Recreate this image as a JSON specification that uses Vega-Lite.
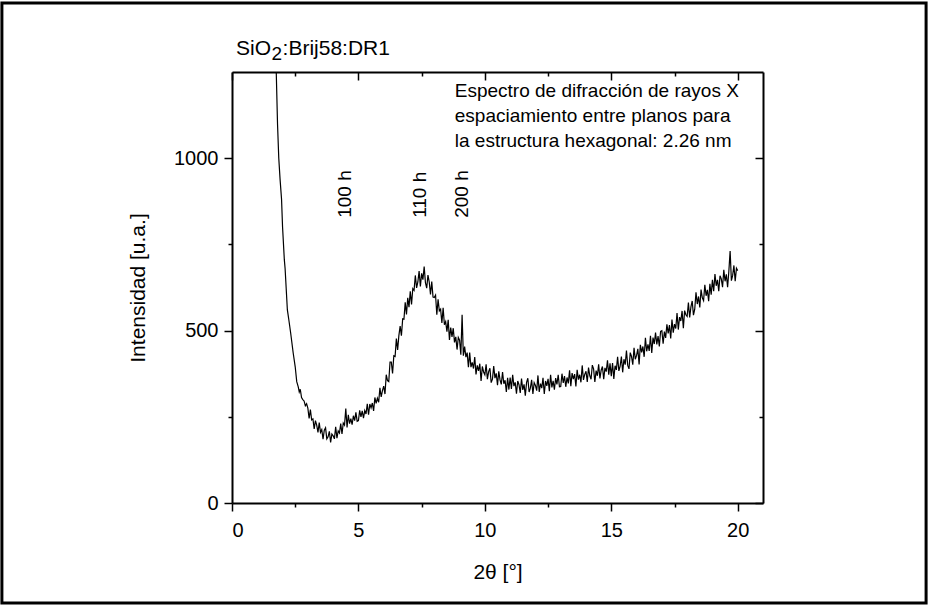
{
  "$schema": "https://vega.github.io/schema/vega-lite/v6.json",
  "width": 531,
  "height": 431,
  "autosize": {"type": "none"},
  "padding": {"left": 232, "top": 72, "right": 166, "bottom": 102},
  "background": "white",
  "config": {
    "view": {"stroke": null},
    "font": "Liberation Sans",
    "axis": {"domainColor": "black", "domainWidth": 2, "tickColor": "black", "tickWidth": 1.5, "labelFont": "Liberation Sans", "labelFontSize": 20, "labelColor": "black", "titleFont": "Liberation Sans", "titleFontWeight": "normal", "titleColor": "black", "grid": false}
  },
  "datasets": {
    "xrd": [
      {"x": 1.7, "y": 1400}, {"x": 1.8, "y": 1100}, {"x": 1.85, "y": 1000}, {"x": 1.9, "y": 940}, {"x": 1.96, "y": 880},
      {"x": 2.0, "y": 800}, {"x": 2.07, "y": 705}, {"x": 2.1, "y": 680}, {"x": 2.19, "y": 560}, {"x": 2.25, "y": 530},
      {"x": 2.32, "y": 493}, {"x": 2.42, "y": 435}, {"x": 2.5, "y": 395}, {"x": 2.56, "y": 352}, {"x": 2.62, "y": 337},
      {"x": 2.66, "y": 322}, {"x": 2.7, "y": 330}, {"x": 2.75, "y": 306}, {"x": 2.8, "y": 300}, {"x": 2.85, "y": 296}, {"x": 2.9, "y": 282}, {"x": 2.95, "y": 288},
      {"x": 3.0, "y": 275}, {"x": 3.05, "y": 245}, {"x": 3.1, "y": 271}, {"x": 3.15, "y": 241}, {"x": 3.2, "y": 244},
      {"x": 3.25, "y": 215}, {"x": 3.3, "y": 239}, {"x": 3.35, "y": 226}, {"x": 3.4, "y": 205}, {"x": 3.45, "y": 233},
      {"x": 3.5, "y": 205}, {"x": 3.55, "y": 213}, {"x": 3.6, "y": 185}, {"x": 3.65, "y": 211}, {"x": 3.7, "y": 218},
      {"x": 3.75, "y": 186}, {"x": 3.8, "y": 192}, {"x": 3.85, "y": 208}, {"x": 3.9, "y": 176}, {"x": 3.95, "y": 200},
      {"x": 4.0, "y": 195}, {"x": 4.05, "y": 186}, {"x": 4.1, "y": 221}, {"x": 4.15, "y": 188}, {"x": 4.2, "y": 209},
      {"x": 4.25, "y": 203}, {"x": 4.3, "y": 230}, {"x": 4.35, "y": 200}, {"x": 4.4, "y": 232}, {"x": 4.45, "y": 226},
      {"x": 4.5, "y": 274}, {"x": 4.55, "y": 219}, {"x": 4.6, "y": 256}, {"x": 4.65, "y": 230}, {"x": 4.7, "y": 245},
      {"x": 4.75, "y": 227}, {"x": 4.8, "y": 253}, {"x": 4.85, "y": 239}, {"x": 4.9, "y": 263}, {"x": 4.95, "y": 237},
      {"x": 5.0, "y": 239}, {"x": 5.05, "y": 269}, {"x": 5.1, "y": 250}, {"x": 5.15, "y": 267}, {"x": 5.2, "y": 246},
      {"x": 5.25, "y": 268}, {"x": 5.3, "y": 258}, {"x": 5.35, "y": 288}, {"x": 5.4, "y": 256}, {"x": 5.45, "y": 287},
      {"x": 5.5, "y": 276}, {"x": 5.55, "y": 290}, {"x": 5.6, "y": 267}, {"x": 5.65, "y": 306}, {"x": 5.7, "y": 289},
      {"x": 5.75, "y": 304}, {"x": 5.8, "y": 292}, {"x": 5.85, "y": 334}, {"x": 5.9, "y": 308}, {"x": 5.95, "y": 326},
      {"x": 6.0, "y": 339}, {"x": 6.05, "y": 316}, {"x": 6.1, "y": 372}, {"x": 6.15, "y": 355}, {"x": 6.2, "y": 352},
      {"x": 6.25, "y": 409}, {"x": 6.3, "y": 409}, {"x": 6.35, "y": 376}, {"x": 6.4, "y": 427}, {"x": 6.45, "y": 425},
      {"x": 6.5, "y": 477}, {"x": 6.55, "y": 444}, {"x": 6.6, "y": 486}, {"x": 6.65, "y": 513}, {"x": 6.7, "y": 485},
      {"x": 6.75, "y": 534}, {"x": 6.8, "y": 533}, {"x": 6.85, "y": 582}, {"x": 6.9, "y": 547}, {"x": 6.95, "y": 595},
      {"x": 7.0, "y": 568}, {"x": 7.05, "y": 614}, {"x": 7.1, "y": 576}, {"x": 7.15, "y": 622}, {"x": 7.2, "y": 617},
      {"x": 7.25, "y": 660}, {"x": 7.3, "y": 624}, {"x": 7.35, "y": 641}, {"x": 7.4, "y": 673}, {"x": 7.45, "y": 628},
      {"x": 7.5, "y": 666}, {"x": 7.55, "y": 648}, {"x": 7.6, "y": 686}, {"x": 7.65, "y": 639}, {"x": 7.7, "y": 623},
      {"x": 7.75, "y": 661}, {"x": 7.8, "y": 641}, {"x": 7.85, "y": 605}, {"x": 7.9, "y": 642}, {"x": 7.95, "y": 597},
      {"x": 8.0, "y": 596}, {"x": 8.05, "y": 603}, {"x": 8.1, "y": 546}, {"x": 8.15, "y": 591}, {"x": 8.2, "y": 557},
      {"x": 8.25, "y": 562}, {"x": 8.3, "y": 522}, {"x": 8.35, "y": 566}, {"x": 8.4, "y": 517}, {"x": 8.45, "y": 526},
      {"x": 8.5, "y": 497}, {"x": 8.55, "y": 531}, {"x": 8.6, "y": 473}, {"x": 8.65, "y": 509}, {"x": 8.7, "y": 482},
      {"x": 8.75, "y": 507}, {"x": 8.8, "y": 466}, {"x": 8.85, "y": 482}, {"x": 8.9, "y": 445}, {"x": 8.95, "y": 480},
      {"x": 9.0, "y": 472}, {"x": 9.05, "y": 430}, {"x": 9.1, "y": 546}, {"x": 9.15, "y": 427}, {"x": 9.2, "y": 454},
      {"x": 9.25, "y": 423}, {"x": 9.3, "y": 436}, {"x": 9.35, "y": 394}, {"x": 9.4, "y": 436}, {"x": 9.45, "y": 394},
      {"x": 9.5, "y": 408}, {"x": 9.55, "y": 390}, {"x": 9.6, "y": 423}, {"x": 9.65, "y": 373}, {"x": 9.7, "y": 399},
      {"x": 9.75, "y": 383}, {"x": 9.8, "y": 404}, {"x": 9.85, "y": 354}, {"x": 9.9, "y": 396}, {"x": 9.95, "y": 380},
      {"x": 10.0, "y": 372}, {"x": 10.05, "y": 402}, {"x": 10.1, "y": 359}, {"x": 10.15, "y": 381}, {"x": 10.2, "y": 391},
      {"x": 10.25, "y": 349}, {"x": 10.3, "y": 359}, {"x": 10.35, "y": 397}, {"x": 10.4, "y": 362}, {"x": 10.45, "y": 376},
      {"x": 10.5, "y": 342}, {"x": 10.55, "y": 382}, {"x": 10.6, "y": 357}, {"x": 10.65, "y": 344}, {"x": 10.7, "y": 380},
      {"x": 10.75, "y": 346}, {"x": 10.8, "y": 356}, {"x": 10.85, "y": 322}, {"x": 10.9, "y": 363}, {"x": 10.95, "y": 329},
      {"x": 11.0, "y": 364}, {"x": 11.05, "y": 331}, {"x": 11.1, "y": 372}, {"x": 11.15, "y": 339}, {"x": 11.2, "y": 350},
      {"x": 11.25, "y": 317}, {"x": 11.3, "y": 354}, {"x": 11.35, "y": 343}, {"x": 11.4, "y": 319}, {"x": 11.45, "y": 361},
      {"x": 11.5, "y": 328}, {"x": 11.55, "y": 344}, {"x": 11.6, "y": 311}, {"x": 11.65, "y": 350}, {"x": 11.7, "y": 362},
      {"x": 11.75, "y": 322}, {"x": 11.8, "y": 333}, {"x": 11.85, "y": 357}, {"x": 11.9, "y": 316}, {"x": 11.95, "y": 349},
      {"x": 12.0, "y": 341}, {"x": 12.05, "y": 326}, {"x": 12.1, "y": 370}, {"x": 12.15, "y": 322}, {"x": 12.2, "y": 346},
      {"x": 12.25, "y": 333}, {"x": 12.3, "y": 363}, {"x": 12.35, "y": 316}, {"x": 12.4, "y": 354}, {"x": 12.45, "y": 340},
      {"x": 12.5, "y": 360}, {"x": 12.55, "y": 324}, {"x": 12.6, "y": 372}, {"x": 12.65, "y": 335}, {"x": 12.7, "y": 354},
      {"x": 12.75, "y": 329}, {"x": 12.8, "y": 362}, {"x": 12.85, "y": 344}, {"x": 12.9, "y": 372}, {"x": 12.95, "y": 337},
      {"x": 13.0, "y": 338}, {"x": 13.05, "y": 375}, {"x": 13.1, "y": 348}, {"x": 13.15, "y": 368}, {"x": 13.2, "y": 337},
      {"x": 13.25, "y": 364}, {"x": 13.3, "y": 347}, {"x": 13.35, "y": 385}, {"x": 13.4, "y": 339}, {"x": 13.45, "y": 377},
      {"x": 13.5, "y": 359}, {"x": 13.55, "y": 374}, {"x": 13.6, "y": 338}, {"x": 13.65, "y": 386}, {"x": 13.7, "y": 358},
      {"x": 13.75, "y": 372}, {"x": 13.8, "y": 350}, {"x": 13.85, "y": 399}, {"x": 13.9, "y": 357}, {"x": 13.95, "y": 373},
      {"x": 14.0, "y": 382}, {"x": 14.05, "y": 351}, {"x": 14.1, "y": 393}, {"x": 14.15, "y": 369}, {"x": 14.2, "y": 359},
      {"x": 14.25, "y": 400}, {"x": 14.3, "y": 389}, {"x": 14.35, "y": 351}, {"x": 14.4, "y": 384}, {"x": 14.45, "y": 369},
      {"x": 14.5, "y": 402}, {"x": 14.55, "y": 361}, {"x": 14.6, "y": 385}, {"x": 14.65, "y": 396}, {"x": 14.7, "y": 359},
      {"x": 14.75, "y": 392}, {"x": 14.8, "y": 381}, {"x": 14.85, "y": 414}, {"x": 14.9, "y": 372}, {"x": 14.95, "y": 405},
      {"x": 15.0, "y": 368}, {"x": 15.05, "y": 406}, {"x": 15.1, "y": 360}, {"x": 15.15, "y": 398}, {"x": 15.2, "y": 386},
      {"x": 15.25, "y": 424}, {"x": 15.3, "y": 383}, {"x": 15.35, "y": 397}, {"x": 15.4, "y": 425}, {"x": 15.45, "y": 379},
      {"x": 15.5, "y": 417}, {"x": 15.55, "y": 401}, {"x": 15.6, "y": 442}, {"x": 15.65, "y": 399}, {"x": 15.7, "y": 389},
      {"x": 15.75, "y": 436}, {"x": 15.8, "y": 425}, {"x": 15.85, "y": 401}, {"x": 15.9, "y": 450}, {"x": 15.95, "y": 417},
      {"x": 16.0, "y": 428}, {"x": 16.05, "y": 447}, {"x": 16.1, "y": 402}, {"x": 16.15, "y": 459}, {"x": 16.2, "y": 437},
      {"x": 16.25, "y": 454}, {"x": 16.3, "y": 424}, {"x": 16.35, "y": 479}, {"x": 16.4, "y": 440}, {"x": 16.45, "y": 460},
      {"x": 16.5, "y": 441}, {"x": 16.55, "y": 485}, {"x": 16.6, "y": 435}, {"x": 16.65, "y": 480}, {"x": 16.7, "y": 461},
      {"x": 16.75, "y": 494}, {"x": 16.8, "y": 460}, {"x": 16.85, "y": 484}, {"x": 16.9, "y": 454}, {"x": 16.95, "y": 498},
      {"x": 17.0, "y": 500}, {"x": 17.05, "y": 462}, {"x": 17.1, "y": 497}, {"x": 17.15, "y": 479}, {"x": 17.2, "y": 518},
      {"x": 17.25, "y": 492}, {"x": 17.3, "y": 516}, {"x": 17.35, "y": 477}, {"x": 17.4, "y": 532}, {"x": 17.45, "y": 494},
      {"x": 17.5, "y": 519}, {"x": 17.55, "y": 506}, {"x": 17.6, "y": 551}, {"x": 17.65, "y": 503}, {"x": 17.7, "y": 539},
      {"x": 17.75, "y": 528}, {"x": 17.8, "y": 557}, {"x": 17.85, "y": 507}, {"x": 17.9, "y": 558}, {"x": 17.95, "y": 546},
      {"x": 18.0, "y": 541}, {"x": 18.05, "y": 581}, {"x": 18.1, "y": 538}, {"x": 18.15, "y": 569}, {"x": 18.2, "y": 586},
      {"x": 18.25, "y": 545}, {"x": 18.3, "y": 562}, {"x": 18.35, "y": 611}, {"x": 18.4, "y": 577}, {"x": 18.45, "y": 599},
      {"x": 18.5, "y": 567}, {"x": 18.55, "y": 619}, {"x": 18.6, "y": 595}, {"x": 18.65, "y": 587}, {"x": 18.7, "y": 633},
      {"x": 18.75, "y": 601}, {"x": 18.8, "y": 618}, {"x": 18.85, "y": 585}, {"x": 18.9, "y": 636}, {"x": 18.95, "y": 604},
      {"x": 19.0, "y": 647}, {"x": 19.05, "y": 614}, {"x": 19.1, "y": 664}, {"x": 19.15, "y": 630}, {"x": 19.2, "y": 647},
      {"x": 19.25, "y": 614}, {"x": 19.3, "y": 659}, {"x": 19.35, "y": 650}, {"x": 19.4, "y": 626}, {"x": 19.45, "y": 676},
      {"x": 19.5, "y": 643}, {"x": 19.55, "y": 663}, {"x": 19.6, "y": 626}, {"x": 19.65, "y": 673}, {"x": 19.7, "y": 731},
      {"x": 19.75, "y": 645}, {"x": 19.8, "y": 660}, {"x": 19.85, "y": 689}, {"x": 19.9, "y": 643}, {"x": 19.95, "y": 681},
      {"x": 20.0, "y": 674}
    ],
    "peaks": [
      {"x": 4.47, "y": 827, "label": "100 h"},
      {"x": 7.43, "y": 827, "label": "110 h"},
      {"x": 9.09, "y": 827, "label": "200 h"}
    ],
    "note": [
      {"x": 8.81, "y": 1222, "label": "Espectro de difracción de rayos X\nespaciamiento entre planos para\nla estructura hexagonal: 2.26 nm"}
    ],
    "heading": [
      {"x": 0.16, "y": 1299, "label": "SiO"},
      {"x": 2.0, "y": 1299, "label": ":Brij58:DR1"}
    ],
    "subscript": [
      {"x": 1.56, "y": 1285, "label": "2"}
    ],
    "frame": [
      {"x": -9.1, "x2": 27.45, "y": -290, "y2": 1450}
    ]
  },
  "layer": [
    {
      "data": {"name": "xrd"},
      "mark": {"type": "line", "color": "black", "strokeWidth": 1.2, "clip": true},
      "encoding": {
        "x": {"field": "x", "type": "quantitative", "scale": {"domain": [0, 21], "nice": false, "zero": false},
          "axis": {"orient": "bottom", "title": "2θ [°]", "titleFontSize": 21, "titlePadding": 21, "values": [0, 2.5, 5, 7.5, 10, 12.5, 15, 17.5, 20],
            "labelExpr": "datum.value % 5 === 0 ? datum.label : ''", "tickSize": {"condition": {"test": "datum.value % 5 === 0", "value": 8}, "value": 4}, "labelPadding": 9}},
        "y": {"field": "y", "type": "quantitative", "scale": {"domain": [0, 1250], "nice": false},
          "axis": {"orient": "left", "title": "Intensidad [u.a.]", "titleFontSize": 21, "titlePadding": 25, "values": [0, 250, 500, 750, 1000],
            "labelExpr": "datum.value % 500 === 0 ? datum.label : ''", "format": "d", "tickSize": {"condition": {"test": "datum.value % 500 === 0", "value": 8}, "value": 4}, "labelPadding": 6}}
      }
    },
    {
      "data": {"name": "peaks"},
      "mark": {"type": "text", "angle": 270, "align": "left", "baseline": "middle", "fontSize": 19, "font": "Liberation Sans", "color": "black"},
      "encoding": {
        "x": {"field": "x", "type": "quantitative",
          "axis": {"orient": "top", "title": null, "labels": false, "values": [0, 2.5, 5, 7.5, 10, 12.5, 15, 17.5, 20],
            "tickSize": {"condition": {"test": "datum.value % 5 === 0", "value": -8}, "value": -4}}},
        "y": {"field": "y", "type": "quantitative",
          "axis": {"orient": "right", "title": null, "labels": false, "values": [0, 250, 500, 750, 1000],
            "tickSize": {"condition": {"test": "datum.value % 500 === 0", "value": -8}, "value": -4}}},
        "text": {"field": "label"}
      }
    },
    {
      "data": {"name": "note"},
      "mark": {"type": "text", "align": "left", "baseline": "top", "fontSize": 19, "lineHeight": 25, "lineBreak": "\n", "font": "Liberation Sans", "color": "black"},
      "encoding": {
        "x": {"field": "x", "type": "quantitative", "axis": null},
        "y": {"field": "y", "type": "quantitative", "axis": null},
        "text": {"field": "label"}
      }
    },
    {
      "data": {"name": "heading"},
      "mark": {"type": "text", "align": "left", "baseline": "alphabetic", "fontSize": 21, "font": "Liberation Sans", "color": "black", "clip": false},
      "encoding": {
        "x": {"field": "x", "type": "quantitative", "axis": null},
        "y": {"field": "y", "type": "quantitative", "axis": null},
        "text": {"field": "label"}
      }
    },
    {
      "data": {"name": "subscript"},
      "mark": {"type": "text", "align": "left", "baseline": "alphabetic", "fontSize": 19, "font": "Liberation Sans", "color": "black", "clip": false},
      "encoding": {
        "x": {"field": "x", "type": "quantitative", "axis": null},
        "y": {"field": "y", "type": "quantitative", "axis": null},
        "text": {"field": "label"}
      }
    },
    {
      "data": {"name": "frame"},
      "mark": {"type": "rect", "fill": null, "stroke": "black", "strokeWidth": 3, "clip": false},
      "encoding": {
        "x": {"field": "x", "type": "quantitative", "axis": null},
        "x2": {"field": "x2"},
        "y": {"field": "y", "type": "quantitative", "axis": null},
        "y2": {"field": "y2"}
      }
    }
  ],
  "resolve": {"axis": {"x": "independent", "y": "independent"}}
}
